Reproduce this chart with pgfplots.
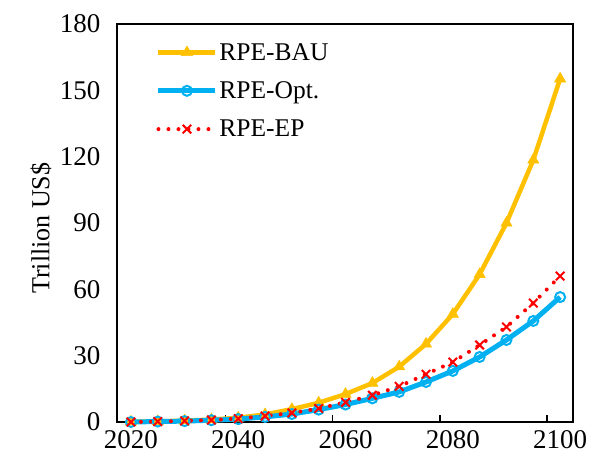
\documentclass[border=0pt]{standalone}
\usepackage{fontspec}
\setmainfont{Liberation Serif}
\usepackage{pgfplots}
\pgfplotsset{compat=1.18}

\definecolor{bau}{RGB}{255,192,0}
\definecolor{opt}{RGB}{0,176,240}
\definecolor{ep}{RGB}{255,0,0}

\pgfplotstableread{
year bau opt ep
2020 0.1 0.0 0.0
2025 0.3 0.2 0.2
2030 0.6 0.4 0.5
2035 1.1 0.8 0.9
2040 1.9 1.3 1.5
2045 3.4 2.3 2.7
2050 5.8 3.6 4.1
2055 8.7 5.6 6.1
2060 12.6 7.9 8.9
2065 17.6 10.7 12.1
2070 25.0 13.6 16.1
2075 35.3 18.1 21.6
2080 48.8 23.1 27.1
2085 66.8 29.4 34.8
2090 90.0 37.1 43.0
2095 118.5 45.7 53.8
2100 155.2 56.5 66.0
}\rpe

\begin{document}
\begin{tikzpicture}
\path[use as bounding box] (-117bp,-42bp) rectangle (487bp,422bp);
\begin{axis}[
  scale only axis,
  width=456bp, height=398bp,
  xmin=2017.4, xmax=2102.4,
  ymin=0, ymax=180,
  ytick={0,30,...,180},
  xtick={2037.6,2057.6,2077.6,2097.6},
  xticklabels={},
  extra x ticks={2020,2040,2060,2080,2100},
  extra x tick style={major tick length=0pt},
  extra x tick labels={2020,2040,2060,2080,2100},
  x tick label style={yshift=-5bp},
  y tick label style={xshift=-13bp},
  xtick pos=bottom,
  tick align=inside,
  major tick length=7bp,
  ytick style={draw=none},
  axis line style={line width=1.5bp},
  tick style={line width=1.5bp, black},
  tick label style={font=\fontsize{27bp}{30bp}\selectfont},
  /pgf/number format/assume math mode=true,
  /pgf/number format/1000 sep={},
  ylabel={Trillion US\$},
  every axis y label/.style={at={(axis description cs:-0.167,0.487)}, rotate=90, anchor=center, font=\fontsize{26bp}{29bp}\selectfont},
  legend image code/.code={\draw[#1, mark=none] (0bp,0bp) -- (57bp,0bp);
    \draw[#1, only marks] plot coordinates {(28.5bp,0bp)};},
  legend style={at={(axis description cs:0.085,0.952)}, anchor=north west, draw=none, fill=none,
    font=\fontsize{25.5bp}{28bp}\selectfont, row sep=20bp, inner sep=0bp,
    nodes={inner xsep=1.5bp, inner ysep=0bp}},
  legend cell align=left,
  clip=false,
]
\addplot[color=bau, line width=4.5bp, mark=triangle*, mark size=6.5bp, mark options={solid, fill=bau, line width=0.5bp}] table[x=year, y=bau] {\rpe};
\addplot[color=opt, line width=5bp, mark=o, mark size=5bp, mark options={solid, fill=white, line width=2bp}] table[x=year, y=opt] {\rpe};
\addplot[color=ep, line width=4bp, line cap=round, dash pattern=on 0bp off 10bp, mark=x, mark size=6bp, mark options={solid, line width=2bp, line cap=butt}] table[x=year, y=ep] {\rpe};
\legend{RPE-BAU,RPE-Opt.,RPE-EP}
\end{axis}
\end{tikzpicture}
\end{document}
